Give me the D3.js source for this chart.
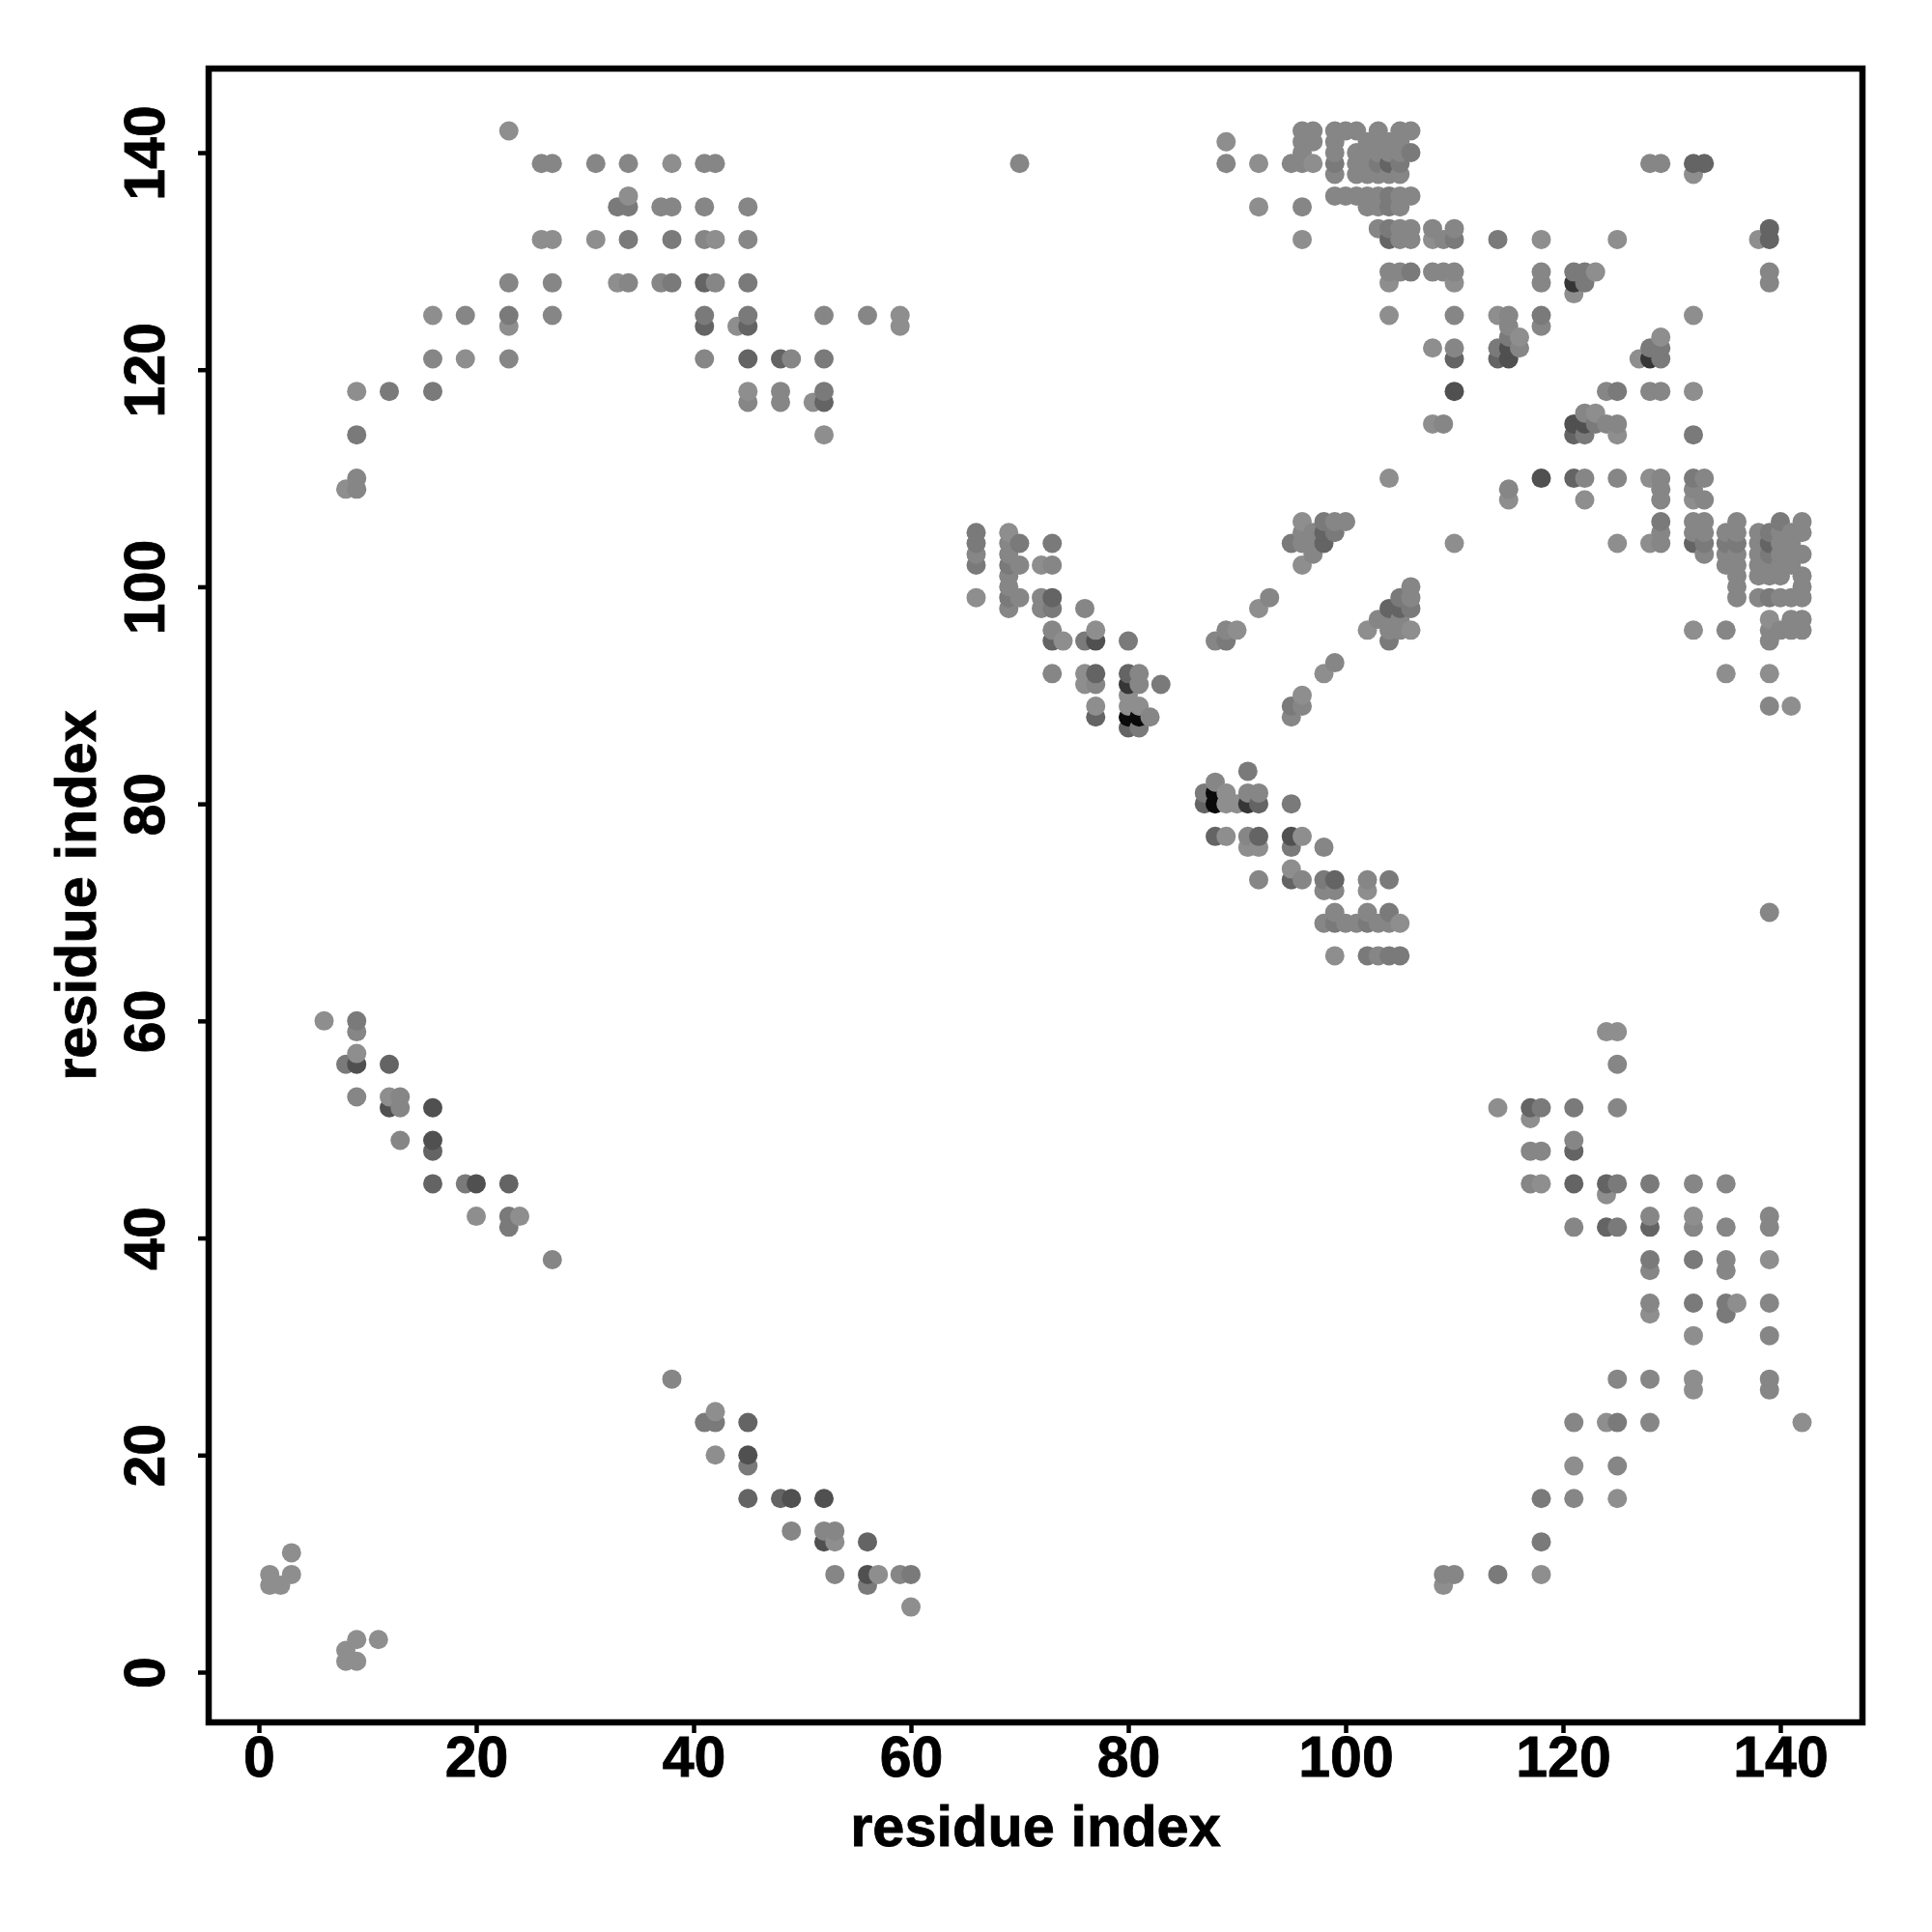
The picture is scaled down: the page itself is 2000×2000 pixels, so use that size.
<!DOCTYPE html>
<html>
<head>
<meta charset="utf-8">
<script src="https://cdn.jsdelivr.net/npm/d3@7"></script>
<style>html,body{margin:0;padding:0;background:#fff}svg{display:block}</style>
</head>
<body>
<svg id="chart" width="2000" height="2000"></svg>
<script>
// Each row is [residue a, residue b, residue b, ...] with a < b; the map is symmetric.
const contactsGray142 = [[1,8,9],[2,8],[3,9,11],[6,60],[8,109],[9,57,118],[12,53],[16,125],[19,121],[20,42],[23,124,142],[24,42],[26,132],[27,132],[31,132],[33,128],[34,136],[38,139],[42,132],[44,124],[45,118],[51,117],[52,114],[59,124,125],[66,99],[69,105],[72,102],[74,95],[76,91,92],[77,89,96],[80,89,90],[81,89],[89,141],[90,96],[92,98,135,139],[96,102,106,132],[97,139],[104,110,125,128],[108,115,122,132],[110,128],[114,125],[116,123],[118,132],[121,127],[123,129],[125,132],[132,138]];
const contactsGray134 = [[9,53,59,109,110],[13,49,52,53],[16,121],[19,125],[23,121,128],[26,139],[27,38,125,128,139],[31,139],[34,128,139],[37,128,135],[38,135],[41,121,132,135,139],[42,128,139],[45,117,132,135],[48,117,118],[49,121],[52,125],[56,125],[66,103],[69,98,100,101,103,104],[70,99,102,139],[72,98,99],[73,92,96,102],[76,98],[77,91],[81,91,92],[82,88],[88,95],[89,96,139],[93,99],[95,139],[96,104,105,135,139,140,141,142],[97,103,104,105,141,142],[99,106,136,138,140,141,142],[100,106,136,142],[101,136,138,139,140,142],[102,135,136,138,139,140,141],[103,133,135,136,138,140,141,142],[104,129,138,140,141],[105,129,132,133,135,136,138,140,141,142],[106,132,133,136,142],[108,129,133],[109,115,129,132],[110,122,125,129,133],[115,124,125],[116,122],[118,124,128,129],[128,139],[129,139]];
const contactsGray122 = [[8,56],[9,60,114],[12,118],[16,118],[19,45],[23,41,42,125],[33,135],[34,132,135],[38,128,132],[41,125],[45,125,128],[52,118,121],[66,102,104,105],[69,99,102],[70,104],[73,98,104],[76,95],[80,95],[81,87],[83,91],[89,95],[95,104],[98,106],[99,105,139],[103,139],[104,133,135,136],[105,139],[106,129,140],[110,132],[114,122,132],[115,123],[118,125],[121,129],[122,128,129]];
const contactsGray100 = [[12,56],[16,45,48],[23,45],[41,124,128],[45,121,124],[48,121],[52,117],[73,95,99],[77,88,92],[80,87,92],[98,104,105],[104,132,139],[110,121],[114,121],[132,139],[133,139]];
const contactsGray80 = [[9,56],[12,52],[16,49,52],[20,45],[77,95],[110,118],[115,121,122]];
const contactsGray54 = [[80,91],[121,128]];
const contactsGray10 = [[80,88],[81,88]];

const shadeGroups = [
  [142, contactsGray142],[134, contactsGray134],[122, contactsGray122],
  [100, contactsGray100],[80, contactsGray80],[54, contactsGray54],[10, contactsGray10]
];
const tickLabels = [0,20,40,60,80,100,120,140];
const axisTitle = "residue index";

const font = '"Liberation Sans", Arial, Helvetica, sans-serif';
const svg = d3.select("#chart");
const x = d3.scaleLinear().domain([0,140]).range([268,1843]);
const y = d3.scaleLinear().domain([0,140]).range([1731,158]);
const frame = {l:216,r:1928,t:71,b:1783};

const points = [];
shadeGroups.forEach(([g,rows])=>rows.forEach(([a,...bs])=>bs.forEach(b=>{
  points.push({x:a,y:b,g}); points.push({x:b,y:a,g});
})));
points.sort((p,q)=>d3.ascending(p.x,q.x)||d3.ascending(p.y,q.y));

svg.append("g").selectAll("circle").data(points).join("circle")
  .attr("cx",d=>x(d.x)).attr("cy",d=>y(d.y)).attr("r",10)
  .attr("fill",d=>d3.rgb(d.g,d.g,d.g).formatHex());

const gx = svg.append("g").attr("transform",`translate(0,${frame.b})`)
  .call(d3.axisBottom(x).tickValues(tickLabels).tickSize(11).tickPadding(0));
const gy = svg.append("g").attr("transform",`translate(${frame.l},0)`)
  .call(d3.axisLeft(y).tickValues(tickLabels).tickSize(11).tickPadding(0));
[gx,gy].forEach(g=>{
  g.select(".domain").remove();
  g.selectAll(".tick line").attr("stroke","#000").attr("stroke-width",4.5);
  g.selectAll("text").attr("fill","#000").attr("stroke","#000").attr("stroke-width",0.8)
    .attr("font-family",font).attr("font-weight","bold").attr("font-size",59);
});
gx.selectAll("text").attr("y",0).attr("dy",0).attr("text-anchor","middle")
  .attr("transform","translate(0,56)");
gy.selectAll("text").attr("x",0).attr("dy",0).attr("text-anchor","middle")
  .attr("transform","translate(-46,0) rotate(-90)");

svg.append("rect").attr("x",frame.l).attr("y",frame.t)
  .attr("width",frame.r-frame.l).attr("height",frame.b-frame.t)
  .attr("fill","none").attr("stroke","#000").attr("stroke-width",6.5);

svg.append("text").text(axisTitle).attr("x",(frame.l+frame.r)/2).attr("y",1911)
  .attr("text-anchor","middle").attr("font-family",font).attr("font-weight","bold")
  .attr("font-size",59.5).attr("fill","#000").attr("stroke","#000").attr("stroke-width",0.8);
svg.append("text").text(axisTitle).attr("text-anchor","middle")
  .attr("transform",`translate(99,${(frame.t+frame.b)/2}) rotate(-90)`)
  .attr("font-family",font).attr("font-weight","bold")
  .attr("font-size",59.5).attr("fill","#000").attr("stroke","#000").attr("stroke-width",0.8);
</script>
</body>
</html>
